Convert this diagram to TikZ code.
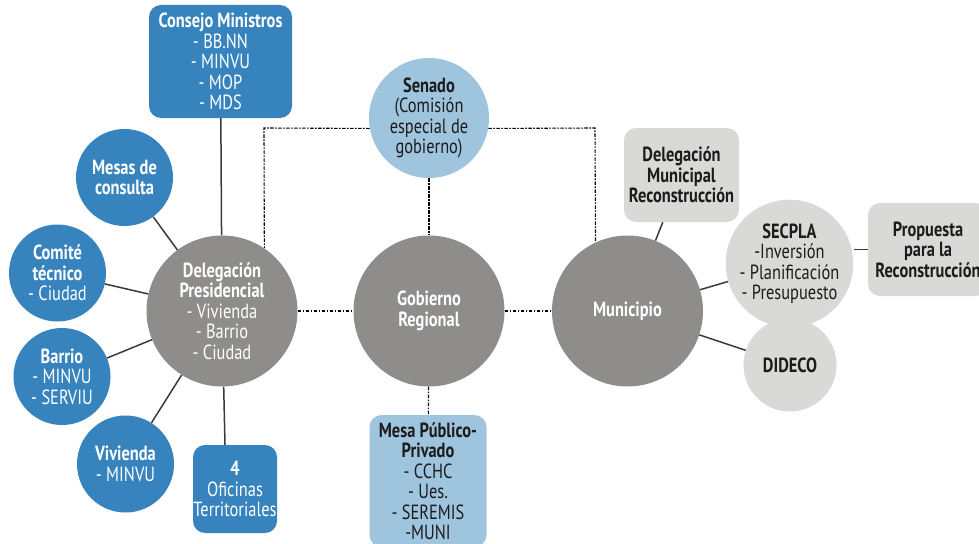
\documentclass[tikz,border=0pt]{standalone}
\usepackage{fontspec}
\setmainfont{PT Sans}[FakeStretch=0.8]
\usepackage{xcolor}
\definecolor{Cerulean}{HTML}{3683BD}
\definecolor{SkyMist}{HTML}{9FC4DE}
\definecolor{Ash}{HTML}{8E8D8C}
\definecolor{Fog}{HTML}{D9D9D8}
\definecolor{Ink}{HTML}{1C1C1C}
\definecolor{Wire}{HTML}{3A3A3A}
\newcommand{\hd}{\textbf}

\begin{document}
\begin{tikzpicture}[x=1pt,y=-1pt,
    every node/.style={font=\fontsize{20.5}{20.5}\selectfont,align=center,inner sep=0pt},
    bigdot/.style={circle,fill=Ash,text=white,minimum size=151pt},
    bluedot/.style={circle,fill=Cerulean,text=white,minimum size=97pt},
    paledot/.style={circle,fill=Fog,text=Ink},
    bluebox/.style={rounded corners=12pt,fill=Cerulean,text=white},
    skybox/.style={rounded corners=12pt,fill=SkyMist,text=Ink},
    fogbox/.style={rounded corners=12pt,fill=Fog,text=Ink},
    link/.style={draw=Wire,line width=1.5pt},
    dotlink/.style={draw=black,line width=1.1pt,dash pattern=on 3.5pt off 1.5pt on 1.5pt off 1.5pt}]
    \clip (0,0) rectangle (979,543);

    % centre row
    \node[bigdot] (dp) at (222,311) {\hd{Delegación}\\\hd{Presidencial}\\- Vivienda\\- Barrio\\- Ciudad};
    \node[bigdot] (gob) at (429,311) {\hd{Gobierno}\\\hd{Regional}};
    \node[bigdot] (mun) at (627.5,311) {\hd{Municipio}};

    % top and bottom
    \node[bluebox,minimum width=143pt,minimum height=113pt] (cons) at (220.5,61.5)
        {\hd{Consejo Ministros}\\- BB.NN\\- MINVU\\- MOP\\- MDS};
    \node[circle,fill=SkyMist,text=Ink,minimum size=120pt] (sen) at (429,118)
        {\hd{Senado}\\(Comisión\\especial de\\gobierno)};
    \node[skybox,minimum width=117pt,minimum height=132pt] (mesa) at (428,481)
        {\hd{Mesa Público-}\\\hd{Privado}\\- CCHC\\- Ues.\\- SEREMIS\\-MUNI};

    % left satellites
    \node[bluedot] (cons2) at (124.5,177.5) {\hd{Mesas de}\\\hd{consulta}};
    \node[bluedot] (tec) at (57.5,273) {\hd{Comité}\\\hd{técnico}\\- Ciudad};
    \node[bluedot] (bar) at (62,376.5) {\hd{Barrio}\\- MINVU\\- SERVIU};
    \node[bluedot] (viv) at (125.5,464) {\hd{Vivienda}\\- MINVU};
    \node[bluebox,minimum width=84pt,minimum height=88pt] (ofi) at (235,489)
        {\hd{4}\\Oficinas\\Territoriales};

    % right satellites
    \node[fogbox,minimum width=115pt,minimum height=94pt] (dmr) at (681.5,175)
        {\hd{Delegación}\\\hd{Municipal}\\\hd{Reconstrucción}};
    \node[paledot,minimum size=110pt] (sec) at (789.5,263.5)
        {\hd{SECPLA}\\-Inversión\\- Planificación\\- Presupuesto};
    \node[paledot,minimum size=93pt] (did) at (790,365) {\hd{DIDECO}};
    \node[fogbox,minimum width=120pt,minimum height=93pt] (prop) at (928,249.5)
        {\hd{Propuesta}\\\hd{para la}\\\hd{Reconstrucción}};

    % solid links
    \draw[link] (cons) -- (dp);
    \draw[link] (cons2) -- (dp);
    \draw[link] (tec) -- (dp);
    \draw[link] (bar) -- (dp);
    \draw[link] (viv) -- (dp);
    \draw[link] ([xshift=-10pt]ofi.north) -- (dp);
    \draw[link] (mun) -- (dmr);
    \draw[link] (mun) -- (sec);
    \draw[link] (mun) -- (did);
    \draw[link] (prop.west) -- (prop.west -| sec.east);

    % dashed links
    \coordinate (cl) at (264,128);
    \coordinate (cr) at (595,128);
    \draw[dotlink] (sen.190) -- (cl) -- (dp.56);
    \draw[dotlink] (sen.-10) -- (cr) -- (mun.115);
    \draw[dotlink] (sen) -- (gob);
    \draw[dotlink] (dp) -- (gob);
    \draw[dotlink] (gob) -- (mun);
    \draw[dotlink] (gob) -- (mesa);
\end{tikzpicture}
\end{document}
